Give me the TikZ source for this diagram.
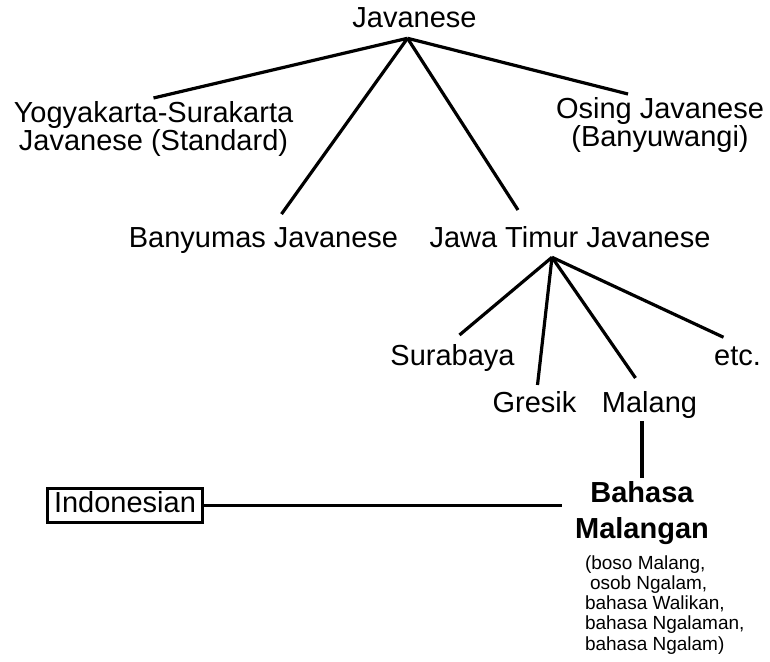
\documentclass[tikz,border=0pt]{standalone}
\usepackage{fontspec}
\setmainfont{Liberation Sans}

\begin{document}
\begin{tikzpicture}
[x=1pt,y=-1pt,
 every node/.style={inner sep=3pt,outer sep=0pt,font=\fontsize{29}{25}\selectfont},
 lang/.style={align=center,anchor=north},
 dial/.style={anchor=base},
 main/.style={align=center,anchor=north,font=\fontsize{29}{36}\selectfont\bfseries},
 alt/.style={align=left,anchor=north west,inner sep=0pt,font=\fontsize{19}{20.2}\selectfont},
 boxed/.style={draw=black,line width=3.2pt,minimum width=155pt,minimum height=34pt,text height=20.8pt,text depth=6pt},
 line width=3.2pt]
\useasboundingbox (0,0) rectangle (770,661);
\node[dial] (jv)  at (414.5,28)  {Javanese};
\node[lang] (yk)  at (153.5,98)  {Yogyakarta-Surakarta\\Javanese (Standard)};
\node[lang] (os)  at (660,94)    {Osing Javanese\\(Banyuwangi)};
\node[dial] (bm)  at (263.5,247) {Banyumas Javanese};
\node[dial] (jt)  at (570,247)   {Jawa Timur Javanese};
\node[dial] (sb)  at (452.5,365) {Surabaya};
\node[dial] (gr)  at (534.5,412) {Gresik};
\node[dial] (ml)  at (649.5,412) {Malang};
\node[dial] (et)  at (737.5,365) {etc.};
\node[main] (bh)  at (642,478)   {Bahasa\\Malangan};
\node[alt]  (bhx) at (585,555.5) {(boso Malang,\\\hspace*{5pt}osob Ngalam,\\bahasa Walikan,\\bahasa Ngalaman,\\bahasa Ngalam)};
\node[boxed] (ind) at (125,505.5) {Indonesian};

% branching points just under the parent labels
\coordinate (jvhub) at ([xshift=-7pt,yshift=-7pt]jv.south);
\coordinate (jthub) at ([xshift=-18pt,yshift=-7pt]jt.south);

\path (jvhub) edge (yk.north)
              edge ([xshift=-32pt]os.north)
              edge ([xshift=18pt,yshift=10pt]bm.north)
              edge ([xshift=-52pt,yshift=13pt]jt.north);
\path (jthub) edge ([xshift=7pt,yshift=6pt]sb.north)
              edge ([xshift=3pt,yshift=3pt]gr.north)
              edge ([xshift=-14pt,yshift=10pt]ml.north)
              edge ([xshift=-14pt,yshift=6pt]et.north);
\path (ml.south -| bh.north) edge (bh.north);
\path (ind) edge[shorten >=10pt] (ind.east -| bh.west);
\end{tikzpicture}
\end{document}
